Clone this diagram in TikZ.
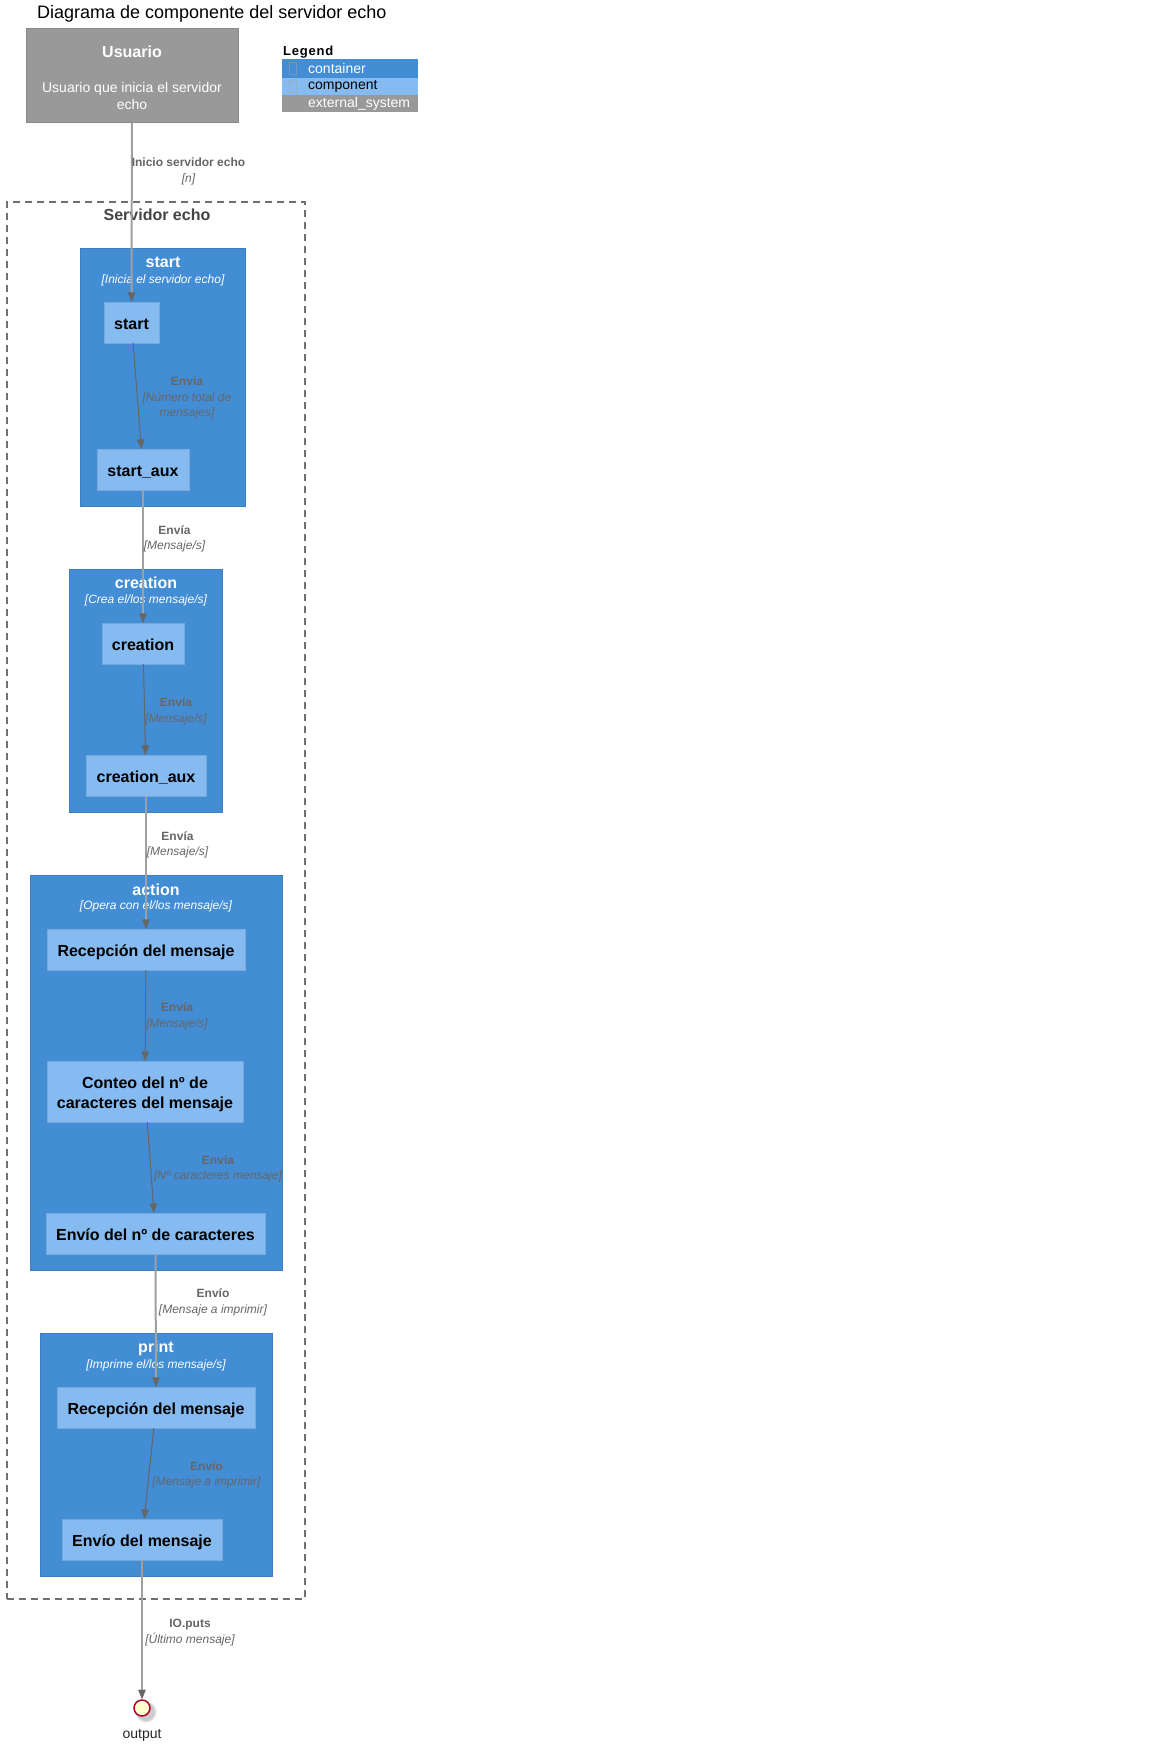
\documentclass[tikz,border=0pt]{standalone}
\usepackage{fontspec}
\setmainfont{Liberation Sans}
\usetikzlibrary{arrows.meta}

\definecolor{contfill}{HTML}{438DD5}
\definecolor{contline}{HTML}{3C7FC0}
\definecolor{compfill}{HTML}{85BBF0}
\definecolor{compline}{HTML}{78A8D8}
\definecolor{extfill}{HTML}{999999}
\definecolor{extline}{HTML}{8A8A8A}
\definecolor{relcol}{HTML}{666666}
\definecolor{outcol}{HTML}{A0A0A0}
\definecolor{bndcol}{HTML}{707070}
\definecolor{bndtext}{HTML}{444444}
\definecolor{ifill}{HTML}{FEFECE}
\definecolor{iline}{HTML}{A80036}

\newcommand\fsz[2]{\fontsize{#1pt}{#2pt}\selectfont}
% fixed line box so every component caption sits at the same height
\newcommand\capstrut{\rule[-4pt]{0pt}{22pt}}

\tikzset{
  x=1pt, y=-1pt,
  box/.style={rectangle, inner sep=0pt, outer sep=0pt},
  extbox/.style={box, fill=extfill, draw=extline, line width=1pt},
  contbox/.style={box, fill=contfill, draw=contline, line width=1pt},
  compbox/.style={box, fill=compfill, draw=compline, line width=1pt,
    font=\fsz{16}{20}\bfseries, text=black, align=center,
    execute at begin node=\capstrut, execute at end node=\capstrut},
  bndbox/.style={box, draw=bndcol, line width=1.3pt, dash pattern=on 7pt off 5pt},
  conttitle/.style={inner sep=0pt, text=white, font=\fsz{16}{19}\bfseries},
  contsub/.style={inner sep=0pt, text=white, font=\fsz{12}{14}\itshape},
  rellab/.style={inner sep=0pt, text=relcol, font=\fsz{12}{15.5}, align=center},
  tip/.style={-{Triangle[length=9.5pt,width=7.5pt,color=relcol,line width=0.4pt]}},
  outerrel/.style={draw=outcol, line width=2pt, tip},
  innerrel/.style={draw=relcol, line width=1pt, tip},
  legrow/.style={box, anchor=north west, minimum width=136pt},
  legtext/.style={inner sep=0pt, anchor=west, font=\fsz{14}{16}},
  tofu/.style={draw, line width=0.6pt, minimum width=7pt, minimum height=12pt, inner sep=0pt},
}

\begin{document}
\begin{tikzpicture}
  % page
  \fill[white] (0,0) rectangle (1152,1747);
  \useasboundingbox (0,0) rectangle (1152,1747);

  % heading
  \node[inner sep=0pt, anchor=base west, font=\fsz{18}{21}] (heading) at (37,18.5)
    {Diagrama de componente del servidor echo};

  % person
  \node[extbox, minimum width=212pt, minimum height=94pt] (user) at (132,76) {};
  \node[inner sep=0pt, text=white, font=\fsz{16}{19}\bfseries] (userttl) at (132,52) {Usuario};
  \node[inner sep=0pt, text=white, font=\fsz{14}{17}, align=center] (userdsc) at (132,96)
    {Usuario que inicia el servidor\\echo};

  % legend
  \node[inner sep=0pt, anchor=base west, font=\fsz{13}{15}\bfseries\addfontfeatures{LetterSpace=6}] (legttl) at (283,56) {Legend};
  \node[legrow, fill=contfill, minimum height=19pt] (legc) at (282,59) {};
  \node[legrow, fill=compfill, minimum height=17pt] (legm) at (282,78) {};
  \node[legrow, fill=extfill, minimum height=17pt] (lege) at (282,95) {};
  \node[tofu, draw=contline!85!black!70] (tofc) at (293,68.5) {};
  \node[tofu, draw=compline!85!black!70] (tofm) at (293,86.5) {};
  \node[tofu, draw=extline!90!black!80] (tofe) at (293,103.5) {};
  \node[legtext, text=white] (legct) at (308,68.5) {container};
  \node[legtext, text=black] (legmt) at (308,86.5) {component};
  \node[legtext, text=white] (leget) at (308,103.5) {external\_system};

  % system boundary
  \node[bndbox, minimum width=298pt, minimum height=1397pt] (srv) at (156,900.5) {};
  \node[inner sep=0pt, text=bndtext, font=\fsz{16}{19}\bfseries] (srvttl) at (157,214.5) {Servidor echo};

  % containers
  \node[contbox, minimum width=165pt, minimum height=258pt] (cstart) at (162.5,377) {};
  \node[conttitle] (cstartt) at (163,262) {start};
  \node[contsub] (cstarts) at (163,280) {[Inicia el servidor echo]};

  \node[contbox, minimum width=153pt, minimum height=243pt] (ccre) at (145.5,690.5) {};
  \node[conttitle] (ccret) at (146,583) {creation};
  \node[contsub] (ccres) at (146,600) {[Crea el/los mensaje/s]};

  \node[contbox, minimum width=252pt, minimum height=395pt] (cact) at (156,1072.5) {};
  \node[conttitle] (cactt) at (156,890) {action};
  \node[contsub] (cacts) at (156,906) {[Opera con el/los mensaje/s]};

  \node[contbox, minimum width=232pt, minimum height=243pt] (cprt) at (156,1454.5) {};
  \node[conttitle] (cprtt) at (156,1348) {print};
  \node[contsub] (cprts) at (156,1365) {[Imprime el/los mensaje/s]};

  % components
  \node[compbox, minimum width=55pt, minimum height=41pt] (start) at (131.5,322.5) {start};
  \node[compbox, minimum width=92pt, minimum height=41pt] (startaux) at (143,469.5) {start\_aux};
  \node[compbox, minimum width=82pt, minimum height=41pt] (cre) at (143,643.5) {creation};
  \node[compbox, minimum width=120pt, minimum height=41pt] (creaux) at (146,775.5) {creation\_aux};
  \node[compbox, minimum width=198pt, minimum height=41pt] (recep) at (146,949.5) {Recepción del mensaje};
  \node[compbox, minimum width=196pt, minimum height=61pt] (conteo) at (145,1091.5) {};
  \node[inner sep=0pt, font=\fsz{16}{20}\bfseries, text=black, align=center] (conteotxt) at (145,1094)
    {Conteo del nº de\\caracteres del mensaje};
  \node[compbox, minimum width=219pt, minimum height=41pt] (envnum) at (155.5,1233.5) {Envío del nº de caracteres};
  \node[compbox, minimum width=198pt, minimum height=41pt] (precep) at (156,1407.5) {Recepción del mensaje};
  \node[compbox, minimum width=160pt, minimum height=41pt] (penv) at (142,1539.5) {Envío del mensaje};

  % output interface with its soft shadow
  \foreach \r/\o in {11/0.05, 10/0.07, 9/0.09}
    \fill[black, opacity=\o] (146,1712) circle (\r);
  \node[circle, fill=ifill, draw=iline, line width=1.5pt, minimum size=16pt, inner sep=0pt] (out) at (142,1708) {};
  \node[inner sep=0pt, font=\fsz{14}{16}, text=black!85] (outlbl) at (142,1735) {output};

  % relations
  \draw[outerrel] (user) -- (start);
  \draw[innerrel] (start) -- (startaux);
  \draw[outerrel] (startaux) -- (cre);
  \draw[innerrel] (cre) -- (creaux);
  \draw[outerrel] (creaux) -- (recep);
  \draw[innerrel] (recep) -- (conteo);
  \draw[innerrel] (conteo) -- (envnum);
  \draw[outerrel] (envnum) -- (precep);
  \draw[innerrel] (precep) -- (penv);
  \draw[outerrel] (penv) -- (out);

  % relation labels
  \node[rellab] (l1) at (188.5,171.5) {{\bfseries Inicio servidor echo}\\{\itshape [n]}};
  \node[rellab] (l2) at (187,398) {{\bfseries Envia}\\{\itshape [Número total de}\\{\itshape mensajes]}};
  \node[rellab] (l3) at (174.5,539) {{\bfseries Envía}\\{\itshape [Mensaje/s]}};
  \node[rellab] (l4) at (176,711.5) {{\bfseries Envía}\\{\itshape [Mensaje/s]}};
  \node[rellab] (l5) at (177.5,845) {{\bfseries Envía}\\{\itshape [Mensaje/s]}};
  \node[rellab] (l6) at (177,1016.5) {{\bfseries Envía}\\{\itshape [Mensaje/s]}};
  \node[rellab] (l7) at (218,1169) {{\bfseries Envía}\\{\itshape [Nº caracteres mensaje]}};
  \node[rellab] (l8) at (213,1302.5) {{\bfseries Envío}\\{\itshape [Mensaje a imprimir]}};
  \node[rellab] (l9) at (206.5,1475) {{\bfseries Envío}\\{\itshape [Mensaje a imprimir]}};
  \node[rellab] (l10) at (190,1632.5) {{\bfseries IO.puts}\\{\itshape [Último mensaje]}};
\end{tikzpicture}
\end{document}
